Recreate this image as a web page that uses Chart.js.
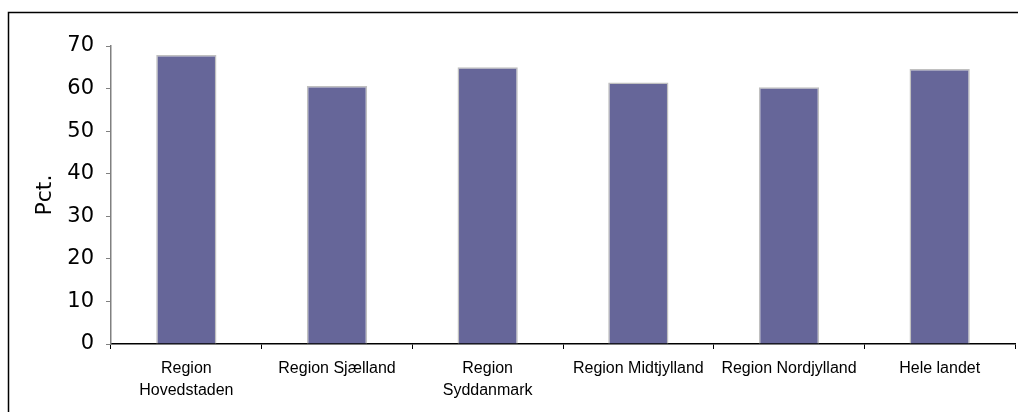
<!DOCTYPE html>
<html>
<head>
<meta charset="utf-8">
<script src="https://cdn.jsdelivr.net/npm/chart.js@4"></script>
<style>
  html, body { margin: 0; padding: 0; background: #fff; }
  canvas { display: block; }
</style>
</head>
<body>
<canvas id="chart" width="1018" height="412"></canvas>
<script>
const categories = [
  ['Region', 'Hovedstaden'],
  'Region Sjælland',
  ['Region', 'Syddanmark'],
  'Region Midtjylland',
  'Region Nordjylland',
  'Hele landet'
];
const values = [67.9, 60.6, 65.0, 61.4, 60.3, 64.6];
const yTicks = [0, 10, 20, 30, 40, 50, 60, 70];

// outer frame: only top and left edges are visible in the picture
const framePlugin = {
  id: 'frame',
  beforeDraw(chart) {
    const ctx = chart.ctx;
    ctx.save();
    ctx.fillStyle = '#fff';
    ctx.fillRect(0, 0, chart.width, chart.height);
    ctx.strokeStyle = '#000';
    ctx.lineWidth = 1.5;
    ctx.beginPath();
    ctx.moveTo(8.5, chart.height);
    ctx.lineTo(8.5, 12.5);
    ctx.lineTo(chart.width, 12.5);
    ctx.stroke();
    ctx.restore();
  }
};

new Chart(document.getElementById('chart'), {
  type: 'bar',
  data: {
    labels: categories,
    datasets: [{
      data: values,
      backgroundColor: '#666699',
      borderColor: '#c0c0c0',
      borderWidth: 1.5,
      barPercentage: 0.4,
      categoryPercentage: 1
    }]
  },
  plugins: [framePlugin],
  options: {
    responsive: false,
    animation: false,
    layout: { padding: { top: 46, right: 3, left: 0, bottom: 0 } },
    plugins: { legend: { display: false }, tooltip: { enabled: false } },
    scales: {
      x: {
        offset: true,
        grid: {
          offset: true,
          drawOnChartArea: false,
          drawTicks: true,
          tickLength: 5,
          color: '#000'
        },
        border: { color: '#000', width: 1.5 },
        ticks: {
          color: '#000',
          maxRotation: 0,
          autoSkip: false,
          padding: 8,
          font: { family: '"Liberation Sans", Arial, sans-serif', size: 16, lineHeight: 1.4 }
        },
        afterFit(scale) { scale.height = 68; }
      },
      y: {
        min: 0,
        max: 70,
        afterBuildTicks(scale) { scale.ticks = yTicks.map(v => ({ value: v })); },
        grid: {
          drawOnChartArea: false,
          drawTicks: true,
          tickLength: 5,
          color: '#808080'
        },
        border: { color: '#808080', width: 1.5 },
        ticks: {
          color: '#000',
          padding: 12,
          font: { family: '"DejaVu Sans", Verdana, sans-serif', size: 21 }
        },
        title: {
          display: true,
          text: 'Pct.',
          color: '#000',
          padding: { top: 32, bottom: 0 },
          font: { family: '"DejaVu Sans", Verdana, sans-serif', size: 22 }
        },
        afterFit(scale) { scale.width = 111; }
      }
    }
  }
});
</script>
</body>
</html>
